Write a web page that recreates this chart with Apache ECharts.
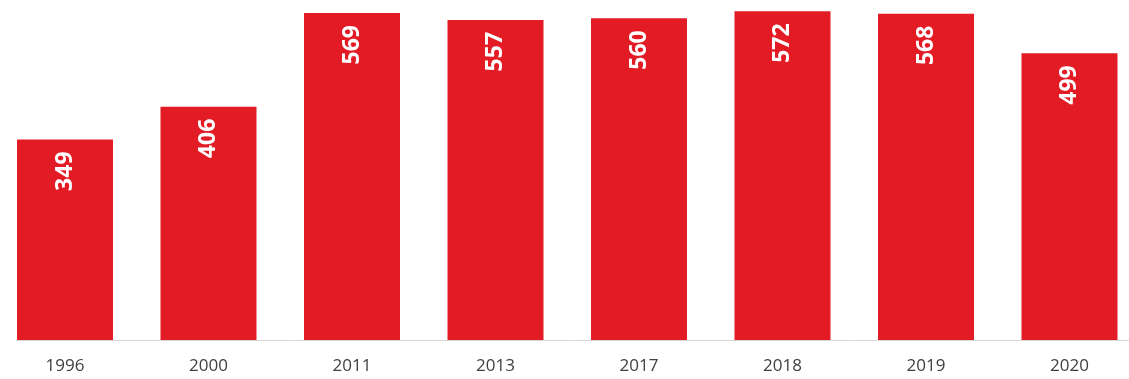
<!DOCTYPE html>
<html>
<head>
<meta charset="utf-8">
<script src="https://cdn.jsdelivr.net/npm/echarts@6/dist/echarts.min.js"></script>
<style>
html,body{margin:0;padding:0;background:#fff;}
#c{width:1129px;height:379px;}
</style>
</head>
<body>
<div id="c"></div>
<script>
const years = ['1996', '2000', '2011', '2013', '2017', '2018', '2019', '2020'];
const values = [349, 406, 569, 557, 560, 572, 568, 499];
const barColor = '#E31B25';

const chart = echarts.init(document.getElementById('c'), null, {renderer: 'canvas'});
chart.setOption({
  animation: false,
  backgroundColor: '#ffffff',
  grid: {left: 65, right: 59.5, top: 1, bottom: 39, containLabel: false},
  xAxis: {
    type: 'category',
    data: years,
    boundaryGap: false,
    axisLine: {show: false},
    axisTick: {show: false},
    splitLine: {show: false},
    axisLabel: {
      color: '#404040',
      fontFamily: 'Open Sans',
      fontSize: 17,
      margin: 18
    }
  },
  yAxis: {
    type: 'value',
    min: 0,
    max: 590,
    show: false,
    splitLine: {show: false}
  },
  graphic: [{
    type: 'line',
    shape: {x1: 16, y1: 340.5, x2: 1129, y2: 340.5},
    style: {stroke: '#D9D9D9', lineWidth: 1},
    z: 0
  }],
  series: [{
    type: 'bar',
    data: values,
    barWidth: 96,
    clip: false,
    itemStyle: {color: barColor},
    z: 2,
    label: {
      show: true,
      position: 'insideTop',
      rotate: 90,
      align: 'right',
      verticalAlign: 'middle',
      distance: 12,
      color: '#ffffff',
      fontFamily: 'Open Sans',
      fontWeight: 'bold',
      fontSize: 23
    }
  }]
});
</script>
</body>
</html>
